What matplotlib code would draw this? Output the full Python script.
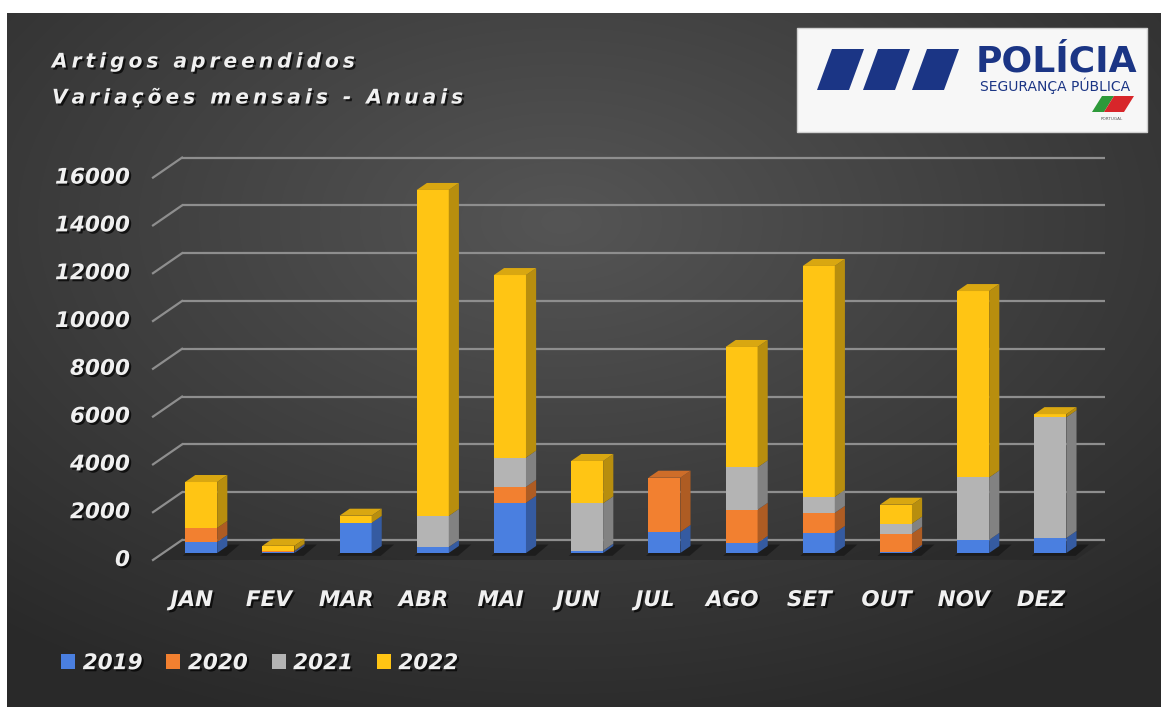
"""Artigos apreendidos - stacked pseudo-3D columns per month, 2019-2022."""

import numpy as np
import matplotlib
matplotlib.use("Agg")
import matplotlib.pyplot as plt
import matplotlib.patheffects as pe
from matplotlib.patches import Polygon, Rectangle, Patch
from matplotlib.colors import to_rgb

# data
months = ["JAN", "FEV", "MAR", "ABR", "MAI", "JUN", "JUL", "AGO", "SET", "OUT", "NOV", "DEZ"]
years = ["2019", "2020", "2021", "2022"]
v2019 = [460, 60, 1260, 250, 2100, 100, 880, 420, 840, 50, 550, 630]
v2020 = [590, 20, 0, 0, 670, 0, 2270, 1390, 840, 760, 0, 0]
v2021 = [0, 20, 0, 1300, 1220, 1980, 0, 1770, 670, 420, 2610, 5050]
v2022 = [1920, 200, 300, 13640, 7640, 1770, 0, 5040, 9660, 790, 7800, 130]
y_ticks = [0, 2000, 4000, 6000, 8000, 10000, 12000, 14000, 16000]

colors = ["#4a7fe0", "#f28030", "#b4b4b4", "#ffc514"]
text_col = "#f0f0f0"

# oblique projection: full depth of the floor in data units, bar placement
DX, DV = 0.376, 837.0
F0, FB = 0.35, 0.35
W = 0.415
XL, XR = -0.492, 11.46


def shade(c, k):
    r, g, b = to_rgb(c)
    return (r * k, g * k, b * k)


def make_background(w, h):
    """Dark radial gradient like the Excel chart area."""
    yy, xx = np.mgrid[0:h, 0:w]
    r = np.hypot((xx - 0.48 * w) / w, (yy - 0.3 * h) / h) / 0.75
    r = np.clip(r, 0, 1)
    level = 0x55 / 255 - r * (0x2b / 255)
    return np.dstack([level, level, level])


def draw_bars(ax):
    series = [v2019, v2020, v2021, v2022]
    for i in range(len(months)):
        x0 = i + F0 * DX - W / 2
        x1 = x0 + W
        base = F0 * DV
        dx, dv = FB * DX, FB * DV
        top_col = None
        for s, c in zip(series, colors):
            h = s[i]
            if h <= 0:
                continue
            ax.add_patch(Rectangle((x0, base), W, h, facecolor=c, edgecolor="none", zorder=5))
            ax.add_patch(Polygon([(x1, base), (x1 + dx, base + dv), (x1 + dx, base + h + dv),
                                  (x1, base + h)], closed=True, facecolor=shade(c, 0.72),
                                 edgecolor="none", zorder=5))
            base += h
            top_col = c
        ax.add_patch(Polygon([(x0, base), (x1, base), (x1 + dx, base + dv), (x0 + dx, base + dv)],
                             closed=True, facecolor=shade(top_col, 0.85), edgecolor="none", zorder=5))
        # shadow on the floor
        ax.add_patch(Polygon([(x0 - 0.03, F0 * DV - 120), (x1 + 0.12, F0 * DV - 120),
                              (x1 + dx + 0.16, F0 * DV + dv + 60), (x0 + dx, F0 * DV + dv + 60)],
                             closed=True, facecolor="black", alpha=0.35, edgecolor="none", zorder=4))


def main():
    fig = plt.figure(figsize=(11.61, 7.07), dpi=100, facecolor="white")

    # pixel overlay for background, title and logo
    deco = fig.add_axes([0, 0, 1, 1])
    deco.set_xlim(0, 1161)
    deco.set_ylim(707, 0)
    deco.axis("off")
    deco.imshow(make_background(1154, 694), extent=[7, 1161, 707, 13], aspect="auto", zorder=0)

    shadow = [pe.SimplePatchShadow(offset=(1.5, -1.5), shadow_rgbFace="black", alpha=0.7), pe.Normal()]
    thin = "\u2009"
    for txt, y in [("Artigos apreendidos", 62), ("Variações mensais - Anuais", 98)]:
        deco.text(52, y, thin.join(txt), color=text_col, fontsize=14.5, fontweight="bold",
                  fontstyle="italic", ha="left", va="center", path_effects=shadow)

    # logo box
    deco.add_patch(Rectangle((797, 28), 350, 104, facecolor="#f7f7f7", edgecolor="#cfcfcf", zorder=3))
    navy = "#1b3585"
    for x in [817, 863, 912]:
        deco.add_patch(Polygon([(x, 90), (x + 32, 90), (x + 47, 49), (x + 15, 49)],
                               closed=True, facecolor=navy, edgecolor="none", zorder=4))
    deco.text(1056, 61, "POLÍCIA", color=navy, fontsize=26, fontweight="bold", ha="center",
              va="center", zorder=4)
    deco.text(1055, 86, "SEGURANÇA PÚBLICA", color=navy, fontsize=10, ha="center", va="center", zorder=4)
    deco.add_patch(Polygon([(1092, 112), (1104, 112), (1114, 96), (1102, 96)], closed=True,
                           facecolor="#2e9a3a", edgecolor="none", zorder=4))
    deco.add_patch(Polygon([(1104, 112), (1124, 112), (1134, 96), (1114, 96)], closed=True,
                           facecolor="#d8262a", edgecolor="none", zorder=4))
    deco.text(1112, 119, "PORTUGAL", color="#555555", fontsize=3, ha="center", va="center", zorder=4)

    # main chart axes mapped to pixels
    ax = fig.add_axes([0, 0, 1, 1])
    ax.patch.set_alpha(0)
    ax.set_xlim(-2.474, 12.565)
    ax.set_ylim(-6151, 23431)
    ax.axis("off")

    # floor
    ax.add_patch(Polygon([(XL, 0), (XR, 0), (XR + DX, DV), (XL + DX, DV)], closed=True,
                         facecolor="#262626", alpha=0.55, edgecolor="none", zorder=1))

    # back wall gridlines and left diagonals
    for g in y_ticks:
        ax.plot([XL + DX, XR + DX], [g + DV, g + DV], color="#8e8e8e", lw=1.6, zorder=2,
                solid_capstyle="butt")
        ax.plot([XL, XL + DX], [g, g + DV], color="#8e8e8e", lw=1.6, zorder=2)
        ax.text(-0.79, g, str(g), color=text_col, fontsize=15.5, fontweight="bold",
                fontstyle="italic", ha="right", va="center", path_effects=shadow)

    draw_bars(ax)

    for i, m in enumerate(months):
        ax.text(i + 0.01, -1674, m, color=text_col, fontsize=15.5, fontweight="bold",
                fontstyle="italic", ha="center", va="center", path_effects=shadow)

    handles = [Patch(facecolor=c, edgecolor="none", label=y) for c, y in zip(colors, years)]
    leg = fig.legend(handles=handles, loc="center left", bbox_to_anchor=(0.036, 0.062), ncol=4,
                     frameon=False, handlelength=0.65, handleheight=0.65, handletextpad=0.35,
                     columnspacing=1.1, prop={"size": 15.5, "weight": "bold", "style": "italic"})
    for t in leg.get_texts():
        t.set_color(text_col)
        t.set_path_effects(shadow)

    fig.savefig("out.png", dpi=100, facecolor="white")


if __name__ == "__main__":
    main()
